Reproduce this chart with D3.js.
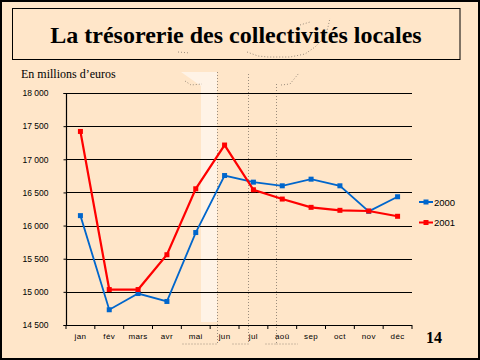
<!DOCTYPE html>
<html><head><meta charset="utf-8">
<script src="https://cdn.jsdelivr.net/npm/d3@7"></script>
<style>html,body{margin:0;padding:0;background:#fff;}svg{display:block;}</style>
</head><body>
<svg id="c" width="480" height="360"></svg>
<script>
const months = ["jan","fév","mars","avr","mai","jun","jul","aoû","sep","oct","nov","déc"];
const s2000 = [16150,14730,14975,14855,15895,16755,16655,16600,16700,16600,16215,16435];
const s2001 = [17420,15035,15035,15560,16555,17215,16540,16400,16275,16230,16220,16140];
const yTicks = [14500,15000,15500,16000,16500,17000,17500,18000];
const seriesNames = ["2000","2001"];
const seriesColors = ["#0066CC","#FF0000"];

const svg = d3.select("#c");
// background
svg.append("rect").attr("x",0).attr("y",0).attr("width",480).attr("height",360).attr("fill","#FFE6C9");
svg.append("rect").attr("x",1).attr("y",1).attr("width",478).attr("height",358).attr("fill","none").attr("stroke","#000").attr("stroke-width",2);

// faded decorative shapes
const deco = svg.append("g");
deco.append("path").attr("d","M181,72 L217,72 L217,322 L201,322 L201,86 Z").attr("fill","#FFF3E6");
const dot = {stroke:"#9a8c7c","stroke-width":1,"stroke-dasharray":"1,2",fill:"none"};
function dpath(d){const p=deco.append("path").attr("d",d);for(const k in dot)p.attr(k,dot[k]);}
dpath("M217.5,72 L217.5,344 L181,344");
dpath("M248.5,74 L248.5,344 L231,344");
dpath("M276.5,84 L276.5,344 L264,344 M276.5,344 L298,344");
dpath("M185,81 L191,85 L202,84");
dpath("M281,85 L290,84 L299,73");
dpath("M178,52 L190,53 M247,52 L258,56 L268,57 L290,57 L305,54 L315,47 L325,37 L328,27 L330,18");
dpath("M300,25 L310,22");

// title box
svg.append("rect").attr("x",12.5).attr("y",8.5).attr("width",447.5).attr("height",51).attr("fill","none").attr("stroke","#000").attr("stroke-width",1);
svg.append("text").attr("x",236).attr("y",43).attr("text-anchor","middle")
  .attr("font-family","Liberation Serif, serif").attr("font-weight","bold").attr("font-size",24)
  .text("La trésorerie des collectivités locales");
svg.append("text").attr("x",21).attr("y",78).attr("font-family","Liberation Serif, serif").attr("font-size",12)
  .text("En millions d’euros");

const x = d3.scaleBand().domain(months).range([66,412]).padding(0);
const y = d3.scaleLinear().domain([14500,18000]).range([325,93]);
const cx = d => x(d) + x.bandwidth()/2;

// gridlines
svg.append("g").selectAll("line").data(yTicks.slice(1)).join("line")
  .attr("x1",66).attr("x2",412).attr("y1",d=>Math.round(y(d))+0.5).attr("y2",d=>Math.round(y(d))+0.5)
  .attr("stroke","#000").attr("stroke-width",1.2);

const loc = d3.formatLocale({decimal:",",thousands:"\u00a0",grouping:[3],currency:["","€"]});
const yAxis = d3.axisLeft(y).tickValues(yTicks).tickFormat(loc.format(",d")).tickSize(3).tickPadding(15);
const gy = svg.append("g").attr("transform","translate(66.5,0)").call(yAxis);
gy.selectAll("text").attr("font-family","Liberation Sans, Arial, sans-serif").attr("font-size",8.5).attr("fill","#000");
gy.select(".domain").attr("stroke","#000").attr("stroke-width",1.2).attr("d","M-3,325.5H0V93.5H-3");

const xAxis = d3.axisBottom(x).tickSize(0).tickPadding(8);
const gx = svg.append("g").attr("transform","translate(0,325.5)").call(xAxis);
gx.select(".domain").attr("stroke","#000").attr("stroke-width",1.2).attr("d","M66,0H412");
gx.selectAll("text").attr("font-family","Liberation Sans, Arial, sans-serif").attr("font-size",8).attr("fill","#000").attr("letter-spacing",0.4);
gx.selectAll(".tick line").remove();
svg.append("g").selectAll("line").data(months.concat(["end"])).join("line")
  .attr("x1",(d,i)=> i<12 ? x(d) : x.range()[1]).attr("x2",(d,i)=> i<12 ? x(d) : x.range()[1])
  .attr("y1",325).attr("y2",329).attr("stroke","#000").attr("stroke-width",1);

// series
const data = [s2000, s2001];
const line = d3.line().x((d,i)=>cx(months[i])).y(d=>y(d));
data.forEach((s,k)=>{
  const g = svg.append("g");
  g.append("path").datum(s).attr("d",line).attr("fill","none").attr("stroke",seriesColors[k]).attr("stroke-width",k===0?1.8:2.2);
  g.selectAll("rect").data(s).join("rect")
    .attr("x",(d,i)=>cx(months[i])-2.5).attr("y",d=>y(d)-2.5).attr("width",5).attr("height",5).attr("fill",seriesColors[k]);
});

// legend
const leg = svg.append("g");
seriesNames.forEach((n,k)=>{
  const ly = 202 + k*20.5;
  leg.append("line").attr("x1",419).attr("x2",433).attr("y1",ly).attr("y2",ly).attr("stroke",seriesColors[k]).attr("stroke-width",2);
  leg.append("rect").attr("x",423.5).attr("y",ly-2.5).attr("width",5).attr("height",5).attr("fill",seriesColors[k]);
  leg.append("text").attr("x",434).attr("y",ly+3.5).attr("font-family","Liberation Sans, Arial, sans-serif").attr("font-size",9.5).text(n);
});

svg.append("text").attr("x",426).attr("y",343).attr("font-family","Liberation Serif, serif").attr("font-weight","bold").attr("font-size",16).text("14");
</script>
</body></html>
